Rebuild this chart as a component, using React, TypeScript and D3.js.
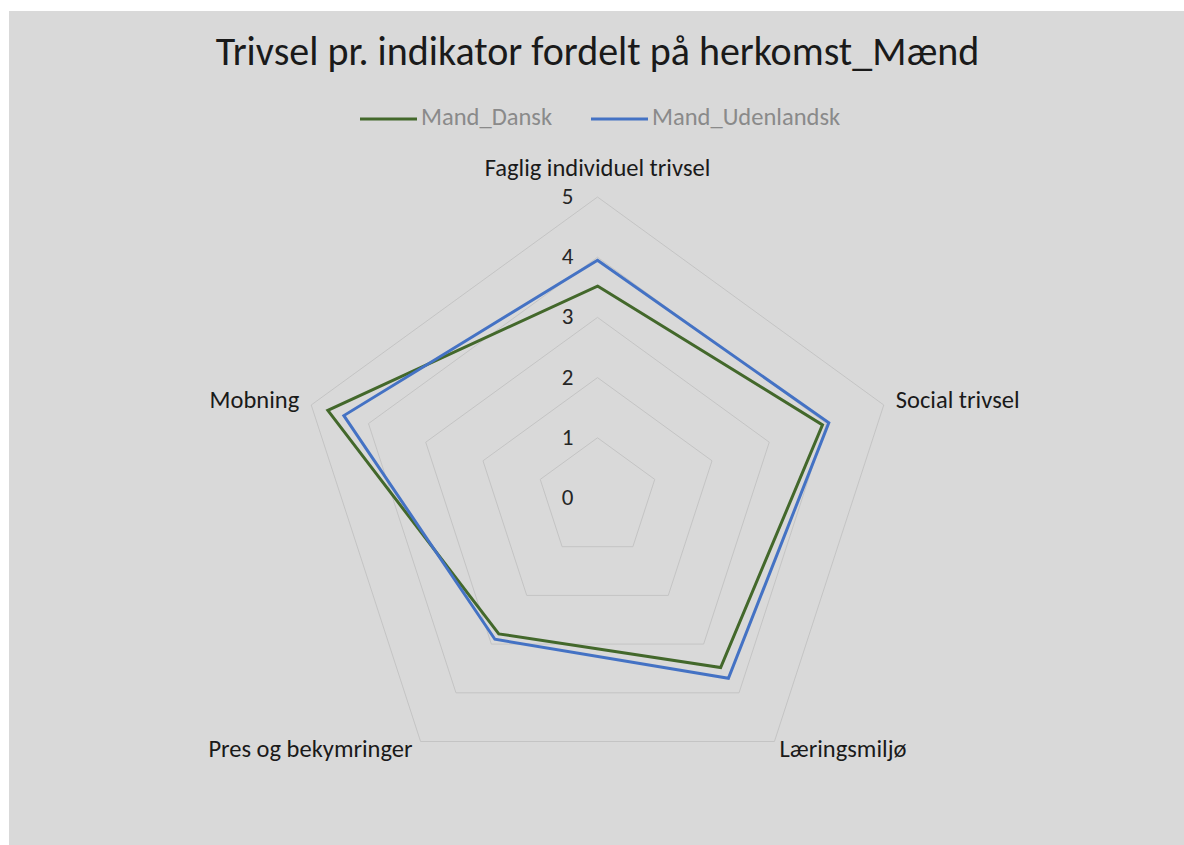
import React from 'react';
import * as d3 from 'd3';

const categories = ['Faglig individuel trivsel', 'Social trivsel', 'Læringsmiljø', 'Pres og bekymringer', 'Mobning'];
const seriesNames = ['Mand_Dansk', 'Mand_Udenlandsk'];
const dansk = [3.52, 3.93, 3.48, 2.79, 4.71];
const udenlandsk = [3.95, 4.04, 3.70, 2.90, 4.43];
const ticks = [0, 1, 2, 3, 4, 5];
const colors = ['#43682b', '#4472c4'];

const W = 1184;
const H = 845;
const cx = 597.5;
const cy = 498;
const font = 'Carlito, Calibri, "Open Sans", sans-serif';

const App = () => {
  const r = d3.scaleLinear().domain([0, 5]).range([0, 301]);
  const angle = (i: number) => (i * 2 * Math.PI) / categories.length;

  const radial = d3.lineRadial<number>()
    .angle((_, i) => angle(i))
    .radius(d => r(d))
    .curve(d3.curveLinearClosed);

  const pt = (i: number, v: number) => [
    cx + r(v) * Math.sin(angle(i)),
    cy - r(v) * Math.cos(angle(i)),
  ];

  const series = [dansk, udenlandsk];
  const legendX = [360, 591];

  return (
    <svg width={W} height={H} style={{ position: 'absolute', left: 0, top: 0 }}>
      <rect x={9} y={11} width={W - 9} height={H - 11} fill="#d9d9d9" />
      <text x={cx} y={65} textAnchor="middle" fontFamily={font} fontSize={40} fill="#1a1a1a">
        Trivsel pr. indikator fordelt på herkomst_Mænd
      </text>

      {/* legend */}
      {seriesNames.map((name, i) => (
        <g key={name}>
          <line x1={legendX[i]} x2={legendX[i] + 57} y1={119} y2={119} stroke={colors[i]} strokeWidth={3} />
          <text x={legendX[i] + 61} y={125} fontFamily={font} fontSize={24.5} fill="#8a8a8a">{name}</text>
        </g>
      ))}

      <g transform={`translate(${cx},${cy})`}>
        {ticks.slice(1).map(t => (
          <path key={t} d={radial(categories.map(() => t)) || ''} fill="none" stroke="#c4c4c4" strokeWidth={1} />
        ))}
        {series.map((s, k) => (
          <path key={k} d={radial(s) || ''} fill="none" stroke={colors[k]} strokeWidth={3} strokeLinejoin="miter" />
        ))}
      </g>

      {ticks.map(t => (
        <text key={t} x={cx - 30} y={cy - r(t) + 7} textAnchor="middle" fontFamily={font} fontSize={23} fill="#262626">{t}</text>
      ))}

      {categories.map((c, i) => {
        const [x, y] = pt(i, 5);
        let anchor = 'middle';
        let dx = 0;
        let dy = 0;
        if (i === 0) { dy = -21; }
        else if (i === 1) { anchor = 'start'; dx = 12; dy = 3; }
        else if (i === 4) { anchor = 'end'; dx = -12; dy = 3; }
        else if (i === 2) { anchor = 'start'; dx = 5; dy = 15; }
        else { anchor = 'end'; dx = -8; dy = 15; }
        return (
          <text key={c} x={x + dx} y={y + dy} textAnchor={anchor} fontFamily={font} fontSize={24.5} fill="#1a1a1a">{c}</text>
        );
      })}
    </svg>
  );
};

export default App;
